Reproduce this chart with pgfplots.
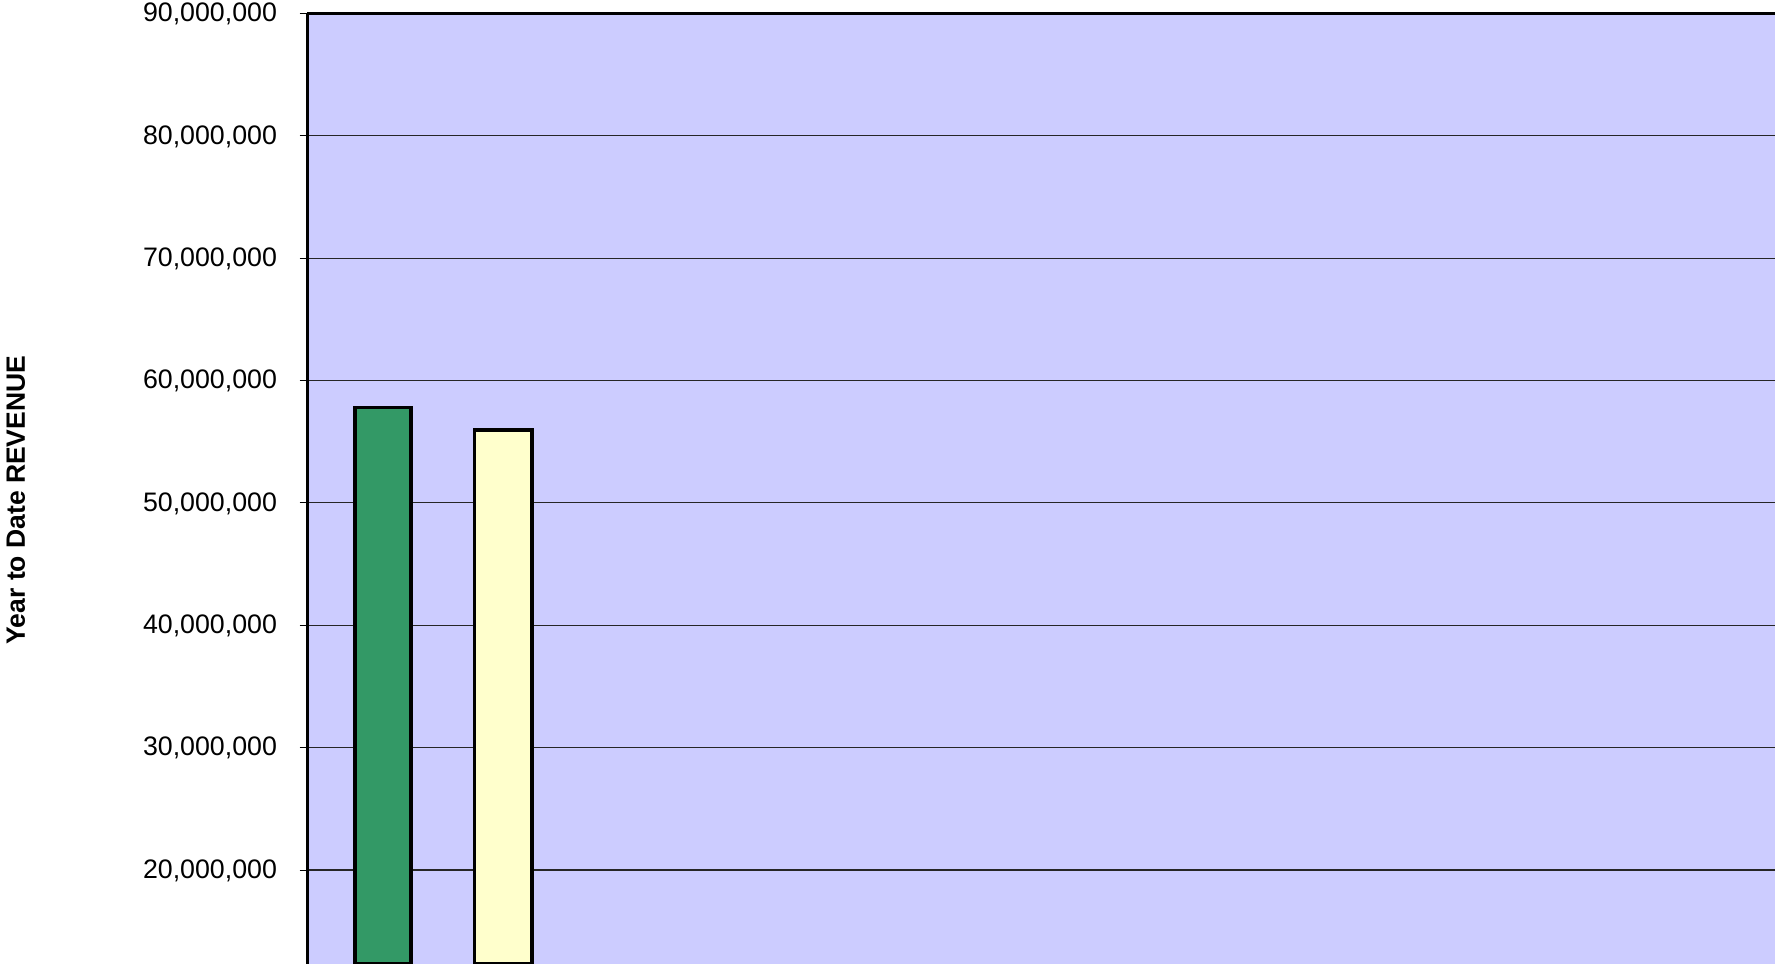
\documentclass[border=0pt]{standalone}
\usepackage{fontspec}
\setmainfont{Liberation Sans}
\usepackage{pgfplots}
\pgfplotsset{compat=1.18}
\definecolor{bgblue}{HTML}{CCCCFF}
\definecolor{bargreen}{HTML}{339966}
\definecolor{baryellow}{HTML}{FFFFCC}
\begin{document}
\begin{tikzpicture}
\begin{axis}[
  at={(122.8pt,0pt)}, anchor=south west,
  scale only axis, width=587.2pt, height=380.28pt,
  xmin=0, xmax=1468, ymin=12320000, ymax=90000000,
  axis x line=top, axis y line=left,
  axis line style={-, black, line width=1.2pt},
  every outer x axis line/.append style={-, line width=1.2pt},
  every outer y axis line/.append style={-, line width=1.2pt},
  axis background/.style={fill=bgblue},
  xtick=\empty,
  ytick={20000000,30000000,40000000,50000000,60000000,70000000,80000000,90000000},
  yticklabels={{20,000,000},{30,000,000},{40,000,000},{50,000,000},{60,000,000},{70,000,000},{80,000,000},{90,000,000}},
  scaled y ticks=false,
  tick align=outside, ytick pos=left,
  major tick length=3pt,
  tick style={black, line width=0.4pt},
  yticklabel style={font=\fontsize{10.7}{12}\selectfont, xshift=-5.5pt, yshift=-0.3pt},
  ymajorgrids,
  major grid style={black!85, line width=0.45pt},
  clip=true,
]
\addplot[ybar, bar shift=0pt, bar width=22.4pt, fill=bargreen, draw=black, line width=1.4pt] coordinates {(76,57800000)};
\addplot[ybar, bar shift=0pt, bar width=22.9pt, fill=baryellow, draw=black, line width=1.4pt] coordinates {(196.3,55940000)};
\end{axis}
\node[rotate=90, font=\bfseries\fontsize{10.6}{12}\selectfont] at (6.4pt,185.6pt) {Year to Date REVENUE};
\pgfresetboundingbox
\useasboundingbox (0,0) rectangle (710pt,385.6pt);
\end{tikzpicture}
\end{document}
